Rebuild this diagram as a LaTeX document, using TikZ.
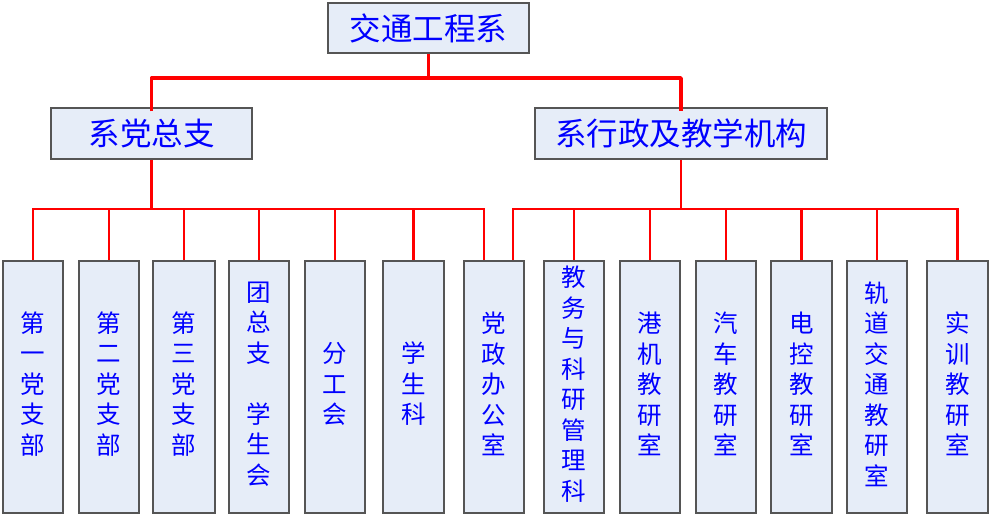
\documentclass[tikz,border=0pt]{standalone}
\usepackage{fontspec}
\newfontfamily\cjk{Noto Sans CJK SC}
\definecolor{boxfill}{RGB}{230,237,248}
\definecolor{boxline}{RGB}{85,85,85}
\definecolor{txtblue}{RGB}{0,0,255}
\definecolor{linered}{RGB}{255,0,0}
\tikzset{
  box/.style={draw=boxline, line width=1.3pt, fill=boxfill, inner sep=0pt, text=txtblue},
  headbox/.style={box, minimum height=50pt, font=\cjk\fontsize{31.5}{36}\selectfont},
  colbox/.style={box, minimum height=252pt, minimum width=60pt},
  coltext/.style={align=center, text=txtblue, inner sep=0pt, yshift=3pt,
                 font=\cjk\fontsize{24.5}{30.5}\selectfont},
  topline/.style={draw=linered, line width=3.6pt},
  busline/.style={draw=linered, line width=2.2pt},
}
\begin{document}
\begin{tikzpicture}[x=1pt,y=-1pt]
\useasboundingbox (0,0) rectangle (991,516);
% head boxes
\node[headbox, minimum width=201pt] (top) at (428.5,28) {交通工程系};
\node[headbox, minimum width=201pt, minimum height=51pt] (L) at (151.5,133.5) {系党总支};
\node[headbox, minimum width=292pt, minimum height=51pt] (R) at (681,133.5) {系行政及教学机构};
% column boxes
\node[colbox, label={[coltext]center:{第\\一\\党\\支\\部}}] (b1) at (33,387) {};
\node[colbox, label={[coltext]center:{第\\二\\党\\支\\部}}] (b2) at (109,387) {};
\node[colbox, minimum width=62pt, label={[coltext]center:{第\\三\\党\\支\\部}}] (b3) at (184,387) {};
\node[colbox, label={[coltext]center:{团\\总\\支\\\mbox{}\\学\\生\\会}}] (b4) at (259,387) {};
\node[colbox, label={[coltext]center:{分\\工\\会}}] (b5) at (335,387) {};
\node[colbox, minimum width=61pt, label={[coltext]center:{学\\生\\科}}] (b6) at (413.5,387) {};
\node[colbox, label={[coltext]center:{党\\政\\办\\公\\室}}] (b7) at (494,387) {};
\node[colbox, label={[coltext]center:{教\\务\\与\\科\\研\\管\\理\\科}}] (b8) at (574,387) {};
\node[colbox, label={[coltext]center:{港\\机\\教\\研\\室}}] (b9) at (650,387) {};
\node[colbox, label={[coltext]center:{汽\\车\\教\\研\\室}}] (b10) at (726,387) {};
\node[colbox, minimum width=61pt, label={[coltext]center:{电\\控\\教\\研\\室}}] (b11) at (801.5,387) {};
\node[colbox, label={[coltext]center:{轨\\道\\交\\通\\教\\研\\室}}] (b12) at (877,387) {};
\node[colbox, minimum width=61pt, label={[coltext]center:{实\\训\\教\\研\\室}}] (b13) at (957.5,387) {};
% bus coordinates
\coordinate (bus0) at (428,78);
\coordinate (bus1) at (0,209);
\coordinate (b7l) at ([xshift=-10pt]b7.north);
\coordinate (b7r) at ([xshift=19pt]b7.north);
% top level
\draw[topline] (top.south) -- (top.south |- bus0);
\draw[topline, line join=round] ([yshift=-4pt]L.north) -- (L.north |- bus0) -- (R.north |- bus0) -- ([yshift=-4pt]R.north);
% left group
\draw[busline] (L.south) -- (L.south |- bus1);
\draw[busline] (b1.north) -- (b1.north |- bus1) -- (b7l |- bus1) -- (b7l);
\foreach \b in {b2,b3,b4,b5,b6} \draw[busline] (\b.north) -- (\b.north |- bus1);
% right group
\draw[busline] (R.south) -- (R.south |- bus1);
\draw[busline] (b7r) -- (b7r |- bus1) -- (b13.north |- bus1) -- (b13.north);
\foreach \b in {b8,b9,b10,b11,b12} \draw[busline] (\b.north) -- (\b.north |- bus1);
\end{tikzpicture}
\end{document}
